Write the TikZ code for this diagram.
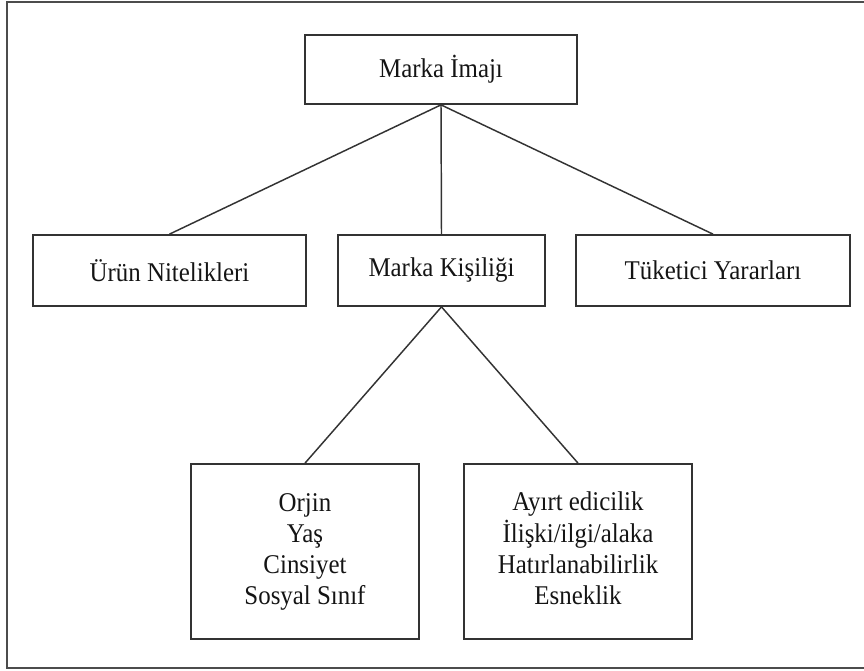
\documentclass[tikz,border=0pt]{standalone}
\usepackage{fontspec}
\setmainfont[FakeStretch=0.92]{Liberation Serif}
\begin{document}
\begin{tikzpicture}[x=0.75pt,y=-0.75pt,
  every node/.style={font=\fontsize{20.3}{23.25}\selectfont, text=black!92},
  box/.style={draw=black!80, line width=1.3pt, inner sep=0pt, align=center},
  conn/.style={draw=black!80, line width=1.1pt},
  frame/.style={draw=black!70, line width=1.6pt}]
\useasboundingbox (0,0) rectangle (864,671);
\draw[frame] (880,2) -- (7,2) -- (7,668) -- (880,668);

\node[box, minimum width=204pt, minimum height=51.75pt] (top) at (441,69.5) {Marka İmajı};
\node[box, minimum width=204.75pt, minimum height=53.25pt] (urun) at (169.5,270.5) {Ürün Nitelikleri};
\node[box, minimum width=155.25pt, minimum height=53.25pt] (kis) at (441.5,270.5) {Marka Kişiliği};
\node[box, minimum width=205.5pt, minimum height=53.25pt] (tuk) at (713,270.5) {Tüketici Yararları};
\node[box, minimum width=171pt, minimum height=131.25pt] (orj) at (305,551.5)
  {\raisebox{4pt}{\begin{tabular}{@{}c@{}}Orjin\\Yaş\\Cinsiyet\\Sosyal Sınıf\end{tabular}}};
\node[box, minimum width=171pt, minimum height=131.25pt] (ayr) at (578,551.5)
  {\raisebox{4pt}{\begin{tabular}{@{}c@{}}Ayırt edicilik\\İlişki/ilgi/alaka\\Hatırlanabilirlik\\Esneklik\end{tabular}}};

\draw[conn] (top.south) -- (urun.north);
\draw[conn] (top.south) -- (kis.north);
\draw[conn] (top.south) -- (tuk.north);
\draw[conn] (kis.south) -- (orj.north);
\draw[conn] (kis.south) -- (ayr.north);
\end{tikzpicture}
\end{document}
